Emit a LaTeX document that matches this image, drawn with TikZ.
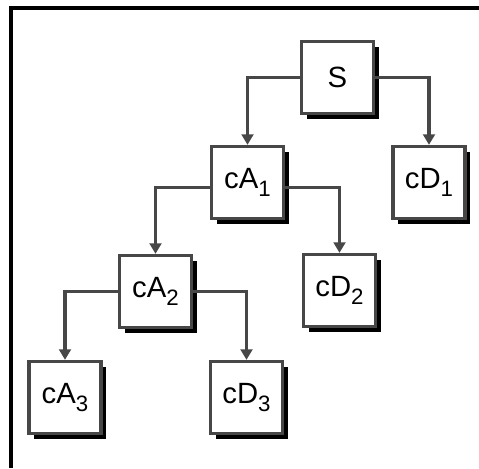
\documentclass[tikz,border=0pt]{standalone}
\usepackage{fontspec}
\setmainfont{Liberation Sans}
\usepackage{tikz}
\usetikzlibrary{arrows.meta, shadows, positioning}
\definecolor{linegray}{gray}{0.28}
\newcommand{\lowidx}[1]{\raisebox{-0.55ex}{\fontsize{19}{20}\selectfont #1}}

\begin{document}
\begin{tikzpicture}[% styles used in image code
 x=0.03cm, y=-0.03cm,
         > = {Triangle[width=10pt,length=9pt]},
box/.style = {draw=linegray, fill=white, line width=2.8pt,
              minimum size=2.16cm, inner sep=0pt,
              font=\fontsize{25}{30}\selectfont,
              drop shadow={shadow xshift=0.16cm, shadow yshift=-0.16cm,
                           fill=black, opacity=1}},
link/.style = {draw=linegray, line width=2.8pt, ->}
                    ]
	\useasboundingbox (0,0) rectangle (479,468);
	% frame
	\draw[line width=3pt] (479,8) -- (11,8) -- (11,468);

	% tree
	\node[box] (S)   at (337.5, 77.5) {S};
	\node[box] (cA1) at (247.5,182.5) {cA\lowidx{1}};
	\node[box] (cD1) at (429,  182.5) {cD\lowidx{1}};
	\node[box] (cA2) at (155.5,291.5) {cA\lowidx{2}};
	\node[box] (cD2) at (339.5,290.5) {cD\lowidx{2}};
	\node[box] (cA3) at (65,   397.5) {cA\lowidx{3}};
	\node[box] (cD3) at (246.5,397.5) {cD\lowidx{3}};

	% connectors
	\draw[link] (S.west)   -| (cA1.north);
	\draw[link] (S.east)   -| (cD1.north);
	\draw[link] ([yshift=-0.15cm]cA1.west) -| (cA2.north);
	\draw[link] ([yshift=-0.15cm]cA1.east) -| (cD2.north);
	\draw[link] (cA2.west) -| (cA3.north);
	\draw[link] (cA2.east) -| (cD3.north);
\end{tikzpicture}
\end{document}
